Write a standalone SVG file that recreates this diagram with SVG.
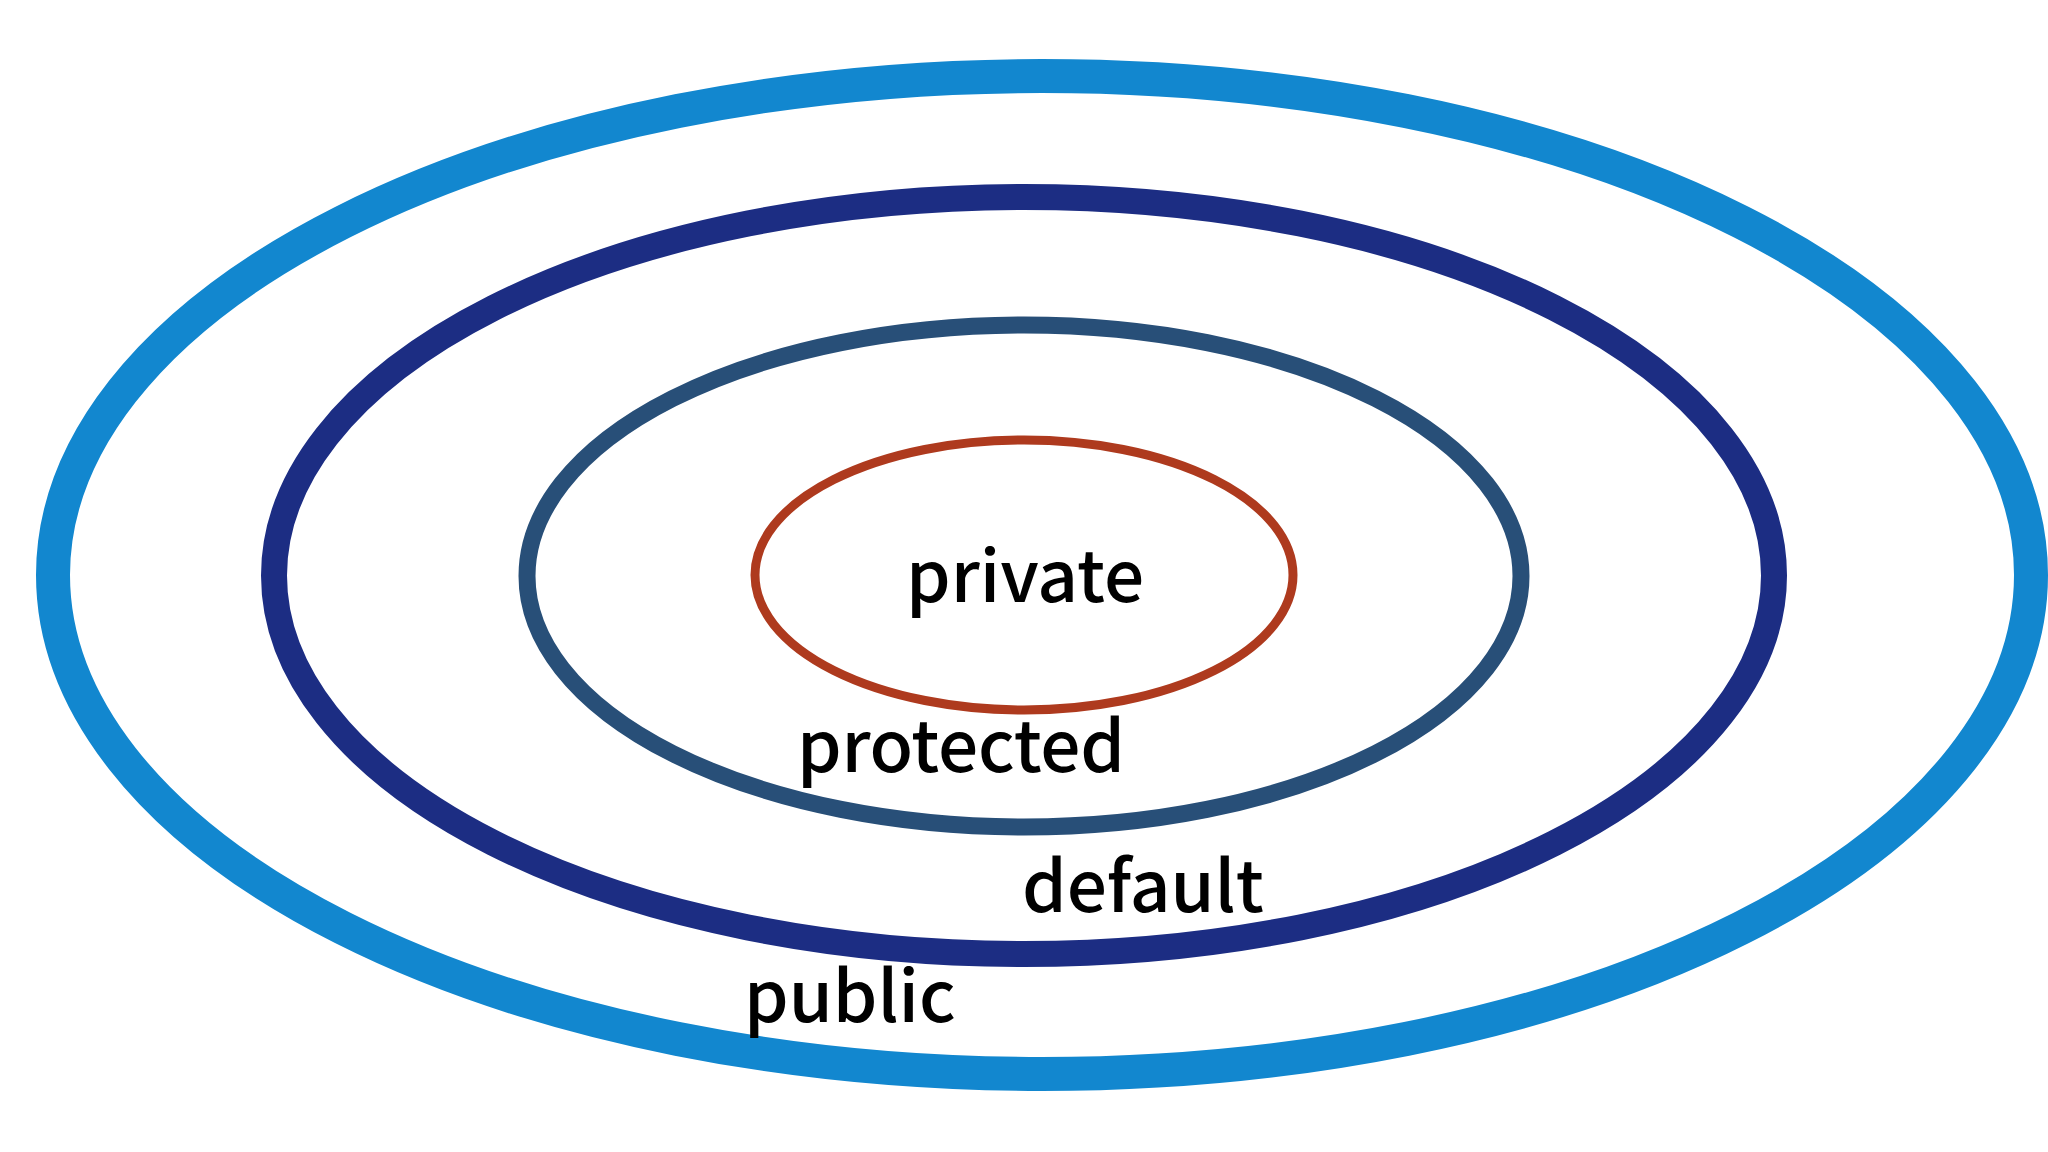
<svg xmlns="http://www.w3.org/2000/svg" width="2048" height="1152" viewBox="0 0 2048 1152">
<style>
  .ring { fill: none; }
  .lbl { font-family: "Noto Sans CJK SC", "Noto Sans", sans-serif; font-size: 71px; font-weight: 500; fill: #000; }
</style>
<rect width="2048" height="1152" fill="#fff"/>
<g id="public">
  <ellipse class="ring" cx="1042" cy="575" rx="989" ry="499" stroke="#1287CF" stroke-width="34"/>
  <text class="lbl" x="744" y="1022">public</text>
</g>
<g id="default">
  <ellipse class="ring" cx="1024" cy="575.5" rx="750" ry="378.5" stroke="#1C2D83" stroke-width="26"/>
  <text class="lbl" x="1022" y="912">default</text>
</g>
<g id="protected">
  <ellipse class="ring" cx="1024" cy="576" rx="497" ry="251" stroke="#284F78" stroke-width="17"/>
  <text class="lbl" x="797" y="772" textLength="328" lengthAdjust="spacing">protected</text>
</g>
<g id="private">
  <ellipse class="ring" cx="1024" cy="575" rx="269" ry="135" stroke="#AE3A1E" stroke-width="9"/>
  <text class="lbl" x="906" y="602">private</text>
</g>
<g id="connectors"></g>
</svg>
